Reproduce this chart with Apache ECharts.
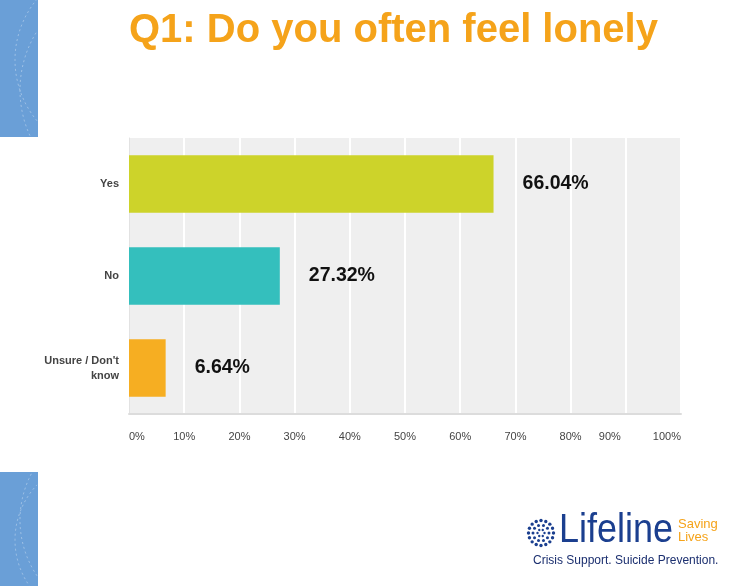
<!DOCTYPE html>
<html><head><meta charset="utf-8">
<script src="https://cdn.jsdelivr.net/npm/echarts@6/dist/echarts.min.js"></script>
<style>html,body{margin:0;padding:0;background:#fff}#c{width:749px;height:586px}</style>
</head><body><div id="c"></div>
<script>
const categories = ["Yes", "No", "Unsure / Don't\nknow"];
const values = [66.04, 27.32, 6.64];
const barColors = ['#cdd32a', '#34bfbd', '#f6ae22'];
const tickLabels = ['0%','10%','20%','30%','40%','50%','60%','70%','80%','90%','100%'];
const titleText = 'Q1: Do you often feel lonely';

const chart = echarts.init(document.getElementById('c'), null, {renderer:'canvas'});

// decorative logo dots
const dots = [];
const lcx = 541, lcy = 533;
[[12.5, 16, 1.7], [8, 10, 1.5], [3.5, 6, 1.2]].forEach(([r, n, s]) => {
  for (let i = 0; i < n; i++) {
    const a = i / n * Math.PI * 2;
    dots.push({type:'circle', shape:{cx: lcx + r*Math.cos(a), cy: lcy + r*Math.sin(a), r: s}, style:{fill:'#1b3f8f'}, silent:true});
  }
});

const arcs = [];
[[110, 60, 95], [130, 90, 110], [95, 540, 80], [120, 520, 100]].forEach(([cx, cy, r]) => {
  const lim = Math.acos(Math.max(-1, Math.min(1, (37 - cx) / r)));
  arcs.push({type:'arc', shape:{cx, cy, r, startAngle: lim, endAngle: 2*Math.PI - lim}, style:{stroke:'rgba(255,255,255,0.35)', lineWidth:1, lineDash:[2,3], fill:null}, silent:true, z:0});
});

const SANS = 'Liberation Sans, Arial, sans-serif';

chart.setOption({
  animation: false,
  backgroundColor: '#ffffff',
  title: {
    text: titleText, left: 124, top: 6,
    textStyle: {fontFamily: SANS, fontWeight: 'bold', fontSize: 40, color: '#f5a31a'}
  },
  graphic: [
    {type:'rect', shape:{x:0, y:0, width:38, height:137}, style:{fill:'#6a9fd7'}, silent:true, z:-1},
    {type:'rect', shape:{x:0, y:472, width:38, height:114}, style:{fill:'#6a9fd7'}, silent:true, z:-1},
    ...arcs,
    ...dots,
    {type:'text', x:559, y:511, scaleX:0.9, style:{text:'Lifeline', fontFamily:SANS, fontSize:40, fill:'#1b3f8f'}},
    {type:'text', x:678, y:518, style:{text:'Saving\nLives', fontFamily:SANS, fontSize:13, lineHeight:13, fill:'#f5a31a'}},
    {type:'text', x:533, y:555, style:{text:'Crisis Support. Suicide Prevention.', fontFamily:SANS, fontSize:12, fill:'#1b2f6f'}}
  ],
  grid: {left: 129, right: 68, top: 138, bottom: 172, backgroundColor: '#efefef', show: true, borderWidth: 0},
  xAxis: {
    type: 'value', min: 0, max: 100, interval: 10,
    axisLine: {show: true, lineStyle: {color: '#dcdcdc', width: 2}},
    axisTick: {show: false},
    splitLine: {show: true, lineStyle: {color: '#ffffff', width: 2}},
    axisLabel: {
      margin: 17, color: '#444', fontFamily: SANS, fontSize: 11,
      alignMinLabel: 'left', alignMaxLabel: 'right',
      formatter: (v) => v === 90 ? '{s|' + tickLabels[9] + '}' : tickLabels[Math.round(v / 10)],
      rich: {s: {color: '#444', fontFamily: SANS, fontSize: 11, padding: [0, 32, 0, 0]}}
    }
  },
  yAxis: {
    type: 'category', data: categories, inverse: true,
    axisLine: {show: true, lineStyle: {color: '#e2e2e2'}},
    axisTick: {show: false},
    axisLabel: {margin: 10, color: '#444', fontWeight: 'bold', fontFamily: SANS, fontSize: 11, lineHeight: 15, align: 'right'}
  },
  series: [{
    type: 'bar',
    data: values.map((v, i) => ({value: v, itemStyle: {color: barColors[i]}})),
    barCategoryGap: '37.5%',
    label: {
      show: true, position: 'right', distance: 29,
      formatter: (p) => p.value.toFixed(2) + '%',
      color: '#111', fontWeight: 'bold', fontSize: 19.5, fontFamily: SANS
    }
  }]
});
</script>
</body></html>
